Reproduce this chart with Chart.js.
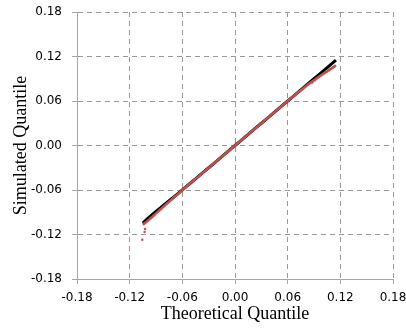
<!DOCTYPE html>
<html>
<head>
<meta charset="utf-8">
<script src="https://cdn.jsdelivr.net/npm/chart.js@4/dist/chart.umd.min.js"></script>
<style>
  html, body { margin: 0; padding: 0; background: #fff; }
  #wrap { width: 406px; height: 328px; }
</style>
</head>
<body>
<div id="wrap"><canvas id="qq_chart" width="406" height="328"></canvas></div>
<script>
// theoretical quantiles (x) shared by both series
var theoretical = [-0.105, -0.100, -0.095, -0.090, -0.085, -0.080, -0.075, -0.070, -0.065, -0.060,
    -0.055, -0.050, -0.045, -0.040, -0.035, -0.030, -0.025, -0.020, -0.015, -0.010,
    -0.005, 0.000, 0.005, 0.010, 0.015, 0.020, 0.025, 0.030, 0.035, 0.040,
    0.045, 0.050, 0.055, 0.060, 0.065, 0.070, 0.075, 0.080, 0.085, 0.090,
    0.095, 0.100, 0.105, 0.110, 0.115];
// black series: simulated quantiles
var simulated_black = [-0.1045, -0.0990, -0.0940, -0.0890, -0.0840, -0.0790, -0.0745, -0.0698, -0.0648, -0.0598,
    -0.0549, -0.0499, -0.0449, -0.0400, -0.0350, -0.0300, -0.0250, -0.0200, -0.0150, -0.0100,
    -0.0050, 0.0000, 0.0050, 0.0100, 0.0150, 0.0200, 0.0250, 0.0300, 0.0350, 0.0400,
    0.0450, 0.0500, 0.0550, 0.0600, 0.0650, 0.0700, 0.0750, 0.0800, 0.0850, 0.0900,
    0.0950, 0.1000, 0.1050, 0.1100, 0.1150];
// red series: simulated quantiles
var simulated_red = [-0.1070, -0.1020, -0.0970, -0.0915, -0.0862, -0.0810, -0.0757, -0.0705, -0.0652, -0.0601,
    -0.0550, -0.0500, -0.0450, -0.0400, -0.0350, -0.0300, -0.0250, -0.0200, -0.0150, -0.0100,
    -0.0050, 0.0000, 0.0050, 0.0100, 0.0150, 0.0200, 0.0250, 0.0300, 0.0350, 0.0400,
    0.0450, 0.0500, 0.0550, 0.0600, 0.0650, 0.0698, 0.0745, 0.0792, 0.0838, 0.0880,
    0.0922, 0.0962, 0.1000, 0.1040, 0.1080];
// red tail points below the line
var red_tail_x = [-0.1025, -0.1030, -0.1056, 0.0880, 0.0910];
var red_tail_y = [-0.1125, -0.1166, -0.1270, 0.0850, 0.0880];

var tick_values = [-0.18, -0.12, -0.06, 0.00, 0.06, 0.12, 0.18];

var grid_colour = '#999999';
var axis_colour = '#a6a6a6';
var red_colour = '#c0504d';

function toPoints(xs, ys) {
    var pts = [];
    for (var i = 0; i < xs.length; i++) {
        pts.push({x: xs[i], y: ys[i]});
    }
    return pts;
}

var tickFont = {family: 'DejaVu Sans', size: 12};
var titleFont = {family: 'Liberation Serif', size: 18};

function axisOptions(title, isX) {
    return {
        type: 'linear',
        min: -0.18,
        max: 0.18,
        afterBuildTicks: function(scale) {
            scale.ticks = tick_values.map(function(v) { return {value: v}; });
        },
        afterFit: function(scale) {
            // fixed axis boxes, no extra room for the end labels
            if (isX) {
                scale.height = 49;
                scale.paddingLeft = 0;
                scale.paddingRight = 0;
            } else {
                scale.width = 77;
                scale.paddingTop = 0;
                scale.paddingBottom = 0;
            }
        },
        grid: {
            color: grid_colour,
            lineWidth: 1,
            tickLength: 5,
            tickColor: axis_colour,
            drawTicks: true
        },
        border: {
            display: true,
            color: axis_colour,
            width: 1,
            dash: [5, 4]
        },
        ticks: {
            color: '#000',
            font: tickFont,
            padding: isX ? 7 : 10,
            maxRotation: 0,
            autoSkip: false,
            callback: function(v) { return v.toFixed(2); }
        },
        title: {
            display: true,
            text: title,
            color: '#000',
            font: titleFont,
            padding: isX ? {top: 0, bottom: 3} : {top: 10, bottom: 0}
        }
    };
}

var qq_config = {
    type: 'scatter',
    data: {
        datasets: [
            {
                label: 'black',
                data: toPoints(theoretical, simulated_black),
                showLine: true,
                borderColor: '#000',
                borderWidth: 3,
                pointRadius: 0,
                order: 3
            },
            {
                label: 'red',
                data: toPoints(theoretical, simulated_red),
                showLine: true,
                borderColor: red_colour,
                borderWidth: 2.6,
                pointRadius: 0,
                order: 2
            },
            {
                label: 'red tail',
                data: toPoints(red_tail_x, red_tail_y),
                showLine: false,
                backgroundColor: red_colour,
                borderWidth: 0,
                pointRadius: 1.2,
                order: 1
            }
        ]
    },
    options: {
        responsive: false,
        animation: false,
        devicePixelRatio: 1,
        layout: {padding: {left: 0, right: 13, top: 12, bottom: 0}},
        plugins: {
            legend: {display: false},
            tooltip: {enabled: false}
        },
        scales: {
            x: axisOptions('Theoretical Quantile', true),
            y: axisOptions('Simulated Quantile', false)
        }
    }
};

var qqchart = new Chart(document.getElementById('qq_chart').getContext('2d'), qq_config);
</script>
</body>
</html>
